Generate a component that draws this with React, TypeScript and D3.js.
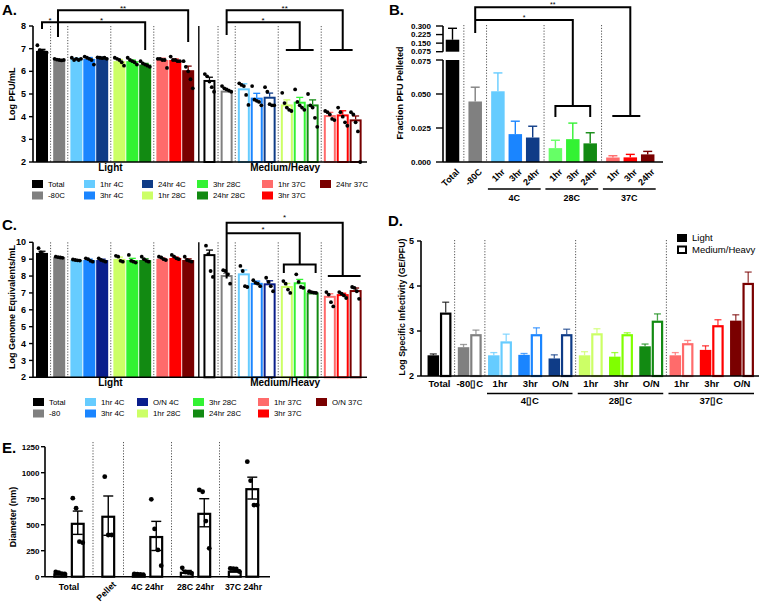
import React from "react";
import * as d3 from "d3";

const FONT = "'Liberation Sans', Arial, Helvetica, sans-serif";

// ===== Shared categories (panels A & C) =====
const conditionsA = ["Total", "-80C", "1hr 4C", "3hr 4C", "24hr 4C", "1hr 28C", "3hr 28C", "24hr 28C", "1hr 37C", "3hr 37C", "24hr 37C"];
const conditionsC = ["Total", "-80", "1hr 4C", "3hr 4C", "O/N 4C", "1hr 28C", "3hr 28C", "24hr 28C", "1hr 37C", "3hr 37C", "O/N 37C"];
const tempGroup = [0, 1, 2, 2, 2, 3, 3, 3, 4, 4, 4];
const fractions = ["Light", "Medium/Heavy"];
const colorsA = ["#000000", "#808080", "#66CCFF", "#1A85FF", "#0F3C87", "#CCFF66", "#33F233", "#128A12", "#FF6B6B", "#FF0000", "#7A0000"];
const colorsC = ["#000000", "#808080", "#66CCFF", "#1A85FF", "#0A1E8C", "#CCFF66", "#33F233", "#128A12", "#FF6B6B", "#FF0000", "#7A0000"];

// ===== Panel A: Log PFU/mL =====
const ticksA = [2, 3, 4, 5, 6, 7, 8];
const pfuLight = [6.9, 6.5, 6.55, 6.55, 6.6, 6.45, 6.45, 6.3, 6.5, 6.5, 6.05];
const pfuLightErr = [0.07, 0.02, 0.03, 0.06, 0.02, 0.07, 0.05, 0.05, 0.08, 0.04, 0.18];
const pfuLightPts = [
  [7.15, 6.93, 6.9, 6.85, 6.82],
  [6.55, 6.52, 6.5, 6.48, 6.5],
  [6.6, 6.5, 6.55, 6.5, 6.55],
  [6.65, 6.6, 6.55, 6.5, 6.3],
  [6.62, 6.6, 6.58, 6.6, 6.55],
  [6.6, 6.55, 6.5, 6.4, 6.25],
  [6.6, 6.5, 6.45, 6.4, 6.3],
  [6.45, 6.35, 6.3, 6.25, 6.2],
  [6.55, 6.55, 6.5, 6.5, 6.15],
  [6.65, 6.5, 6.5, 6.45, 6.45],
  [6.45, 6.2, 6.0, 5.65, 5.25],
];
const pfuMH = [5.62, 5.15, 5.25, 4.84, 4.88, 4.54, 4.66, 4.54, 4.07, 4.1, 3.88];
const pfuMHErr = [0.12, 0.05, 0.2, 0.19, 0.16, 0.2, 0.19, 0.2, 0.12, 0.16, 0.15];
const pfuMHPts = [
  [5.88, 5.78, 5.55, 5.3, 5.1],
  [5.35, 5.25, 5.2, 5.15, 5.1],
  [5.47, 5.4, 5.35, 4.96, 4.52],
  [5.35, 4.75, 4.7, 4.65, 4.5],
  [5.3, 5.1, 4.55, 4.5, 4.5],
  [5.05, 4.6, 4.4, 4.3, 4.25],
  [5.2, 4.65, 4.5, 4.4, 4.3],
  [5.0, 4.5, 4.4, 3.95, 3.55],
  [4.25, 4.2, 4.1, 3.9, 3.85],
  [4.4, 4.2, 4.0, 3.75, 3.6],
  [4.2, 4.1, 3.75, 3.35, 2.0],
];

// ===== Panel B: Fraction PFU pelleted =====
const pelletLabels = ["Total", "-80C", "1hr", "3hr", "24hr", "1hr", "3hr", "24hr", "1hr", "3hr", "24hr"];
const pelletGroups = ["4C", "28C", "37C"];
const pelletFrac = [0.18, 0.0445, 0.052, 0.0205, 0.018, 0.0102, 0.0168, 0.0137, 0.0033, 0.0034, 0.0056];
const pelletErr = [0.1, 0.0105, 0.0135, 0.0095, 0.0083, 0.0058, 0.0118, 0.0078, 0.0013, 0.0022, 0.0022];
const colorsB = ["#000000", "#808080", "#66CCFF", "#1A85FF", "#0F3C87", "#66FF66", "#33F233", "#128A12", "#FF6B6B", "#FF0000", "#7A0000"];
const ticksBLow = [0, 0.025, 0.05, 0.075];
const ticksBHigh = [0.075, 0.15, 0.225, 0.3];

// ===== Panel C: Log genome equivalents/mL =====
const ticksC = [2, 3, 4, 5, 6, 7, 8, 9, 10];
const geLight = [9.37, 9.12, 8.95, 8.95, 8.95, 9.02, 8.95, 8.95, 9.02, 9.07, 8.95];
const geLightErr = [0.1, 0.02, 0.02, 0.05, 0.05, 0.1, 0.1, 0.07, 0.05, 0.05, 0.07];
const geLightPts = [
  [9.65, 9.4, 9.3, 9.2],
  [9.15, 9.12, 9.1, 9.08],
  [8.98, 8.95, 8.93, 8.92],
  [9.05, 9.0, 8.9, 8.85],
  [9.05, 8.95, 8.9, 8.85],
  [9.2, 9.15, 8.9, 8.85],
  [9.25, 8.9, 8.85, 8.8],
  [9.15, 9.0, 8.9, 8.85],
  [9.15, 9.1, 9.0, 8.95],
  [9.25, 9.15, 9.05, 9.0],
  [9.15, 8.95, 8.9, 8.85],
];
const geMH = [9.3, 8.06, 8.16, 7.6, 7.57, 7.41, 7.63, 7.03, 6.83, 6.93, 7.17];
const geMHErr = [0.24, 0.1, 0.2, 0.1, 0.15, 0.15, 0.17, 0.03, 0.12, 0.05, 0.12];
const geMHPts = [
  [9.8, 9.3, 8.3, 7.95],
  [8.35, 8.3, 8.1, 7.55],
  [8.6, 8.3, 7.4, 7.35],
  [7.75, 7.6, 7.55, 7.4],
  [7.9, 7.65, 7.4, 7.1],
  [7.7, 7.55, 7.2, 7.0],
  [8.1, 7.65, 7.35, 7.3],
  [7.1, 7.05, 7.02, 7.0],
  [7.05, 6.9, 6.45, 6.2],
  [7.05, 6.95, 6.85, 6.7],
  [7.35, 7.3, 7.1, 6.65],
];

// ===== Panel D: Log specific infectivity =====
const infectLabels = ["Total", "-80\u25AFC", "1hr", "3hr", "O/N", "1hr", "3hr", "O/N", "1hr", "3hr", "O/N"];
const infectGroups = ["4\u25AFC", "28\u25AFC", "37\u25AFC"];
const ticksD = [2, 3, 4, 5];
const infectLight = [2.46, 2.64, 2.46, 2.47, 2.39, 2.46, 2.43, 2.66, 2.46, 2.58, 3.23];
const infectLightErr = [0.03, 0.06, 0.06, 0.03, 0.08, 0.08, 0.09, 0.05, 0.06, 0.09, 0.13];
const infectMH = [3.41, 2.93, 2.77, 2.93, 2.93, 2.95, 2.93, 3.23, 2.73, 3.13, 4.07];
const infectMHErr = [0.23, 0.09, 0.16, 0.14, 0.11, 0.1, 0.03, 0.15, 0.06, 0.12, 0.24];
const colorsD = ["#000000", "#808080", "#66CCFF", "#1A85FF", "#0F3C87", "#CCFF66", "#80FF00", "#128A12", "#FF6B6B", "#FF0000", "#7A0000"];

// ===== Panel E: Diameter =====
const diamGroups = ["Total", "Pellet", "4C 24hr", "28C 24hr", "37C 24hr"];
const ticksE = [0, 250, 500, 750, 1000, 1250];
const diamSmall = [33, null, 23, 48, 58];
const diamSmallErr = [5, null, 3, 12, 7];
const diamSmallPts = [[45, 38, 30, 28], [], [28, 25, 22, 20], [85, 45, 40, 35], [80, 78, 75, 50]];
const diamLarge = [519, 587, 392, 615, 852];
const diamLargeErr = [112, 189, 140, 135, 105];
const diamLargePts = [[755, 658, 337, 327], [962, 401, 401], [744, 459, 257, 106], [834, 817, 535, 273], [1106, 923, 689, 689]];

// ================= helpers =================
const dotOffsets = (n: number, spread: number) => d3.range(n).map((j) => (j - (n - 1) / 2) * spread);
const DOT = "#555";

function YAxis({ x, scale, ticks, fmt, tickLen = 4, gap = 3, fontSize = 9, nudge }: any) {
  const [d0, d1] = scale.domain();
  return (
    <g>
      <line x1={x} x2={x} y1={scale(d0)} y2={scale(d1)} stroke="#000" strokeWidth={1.6} />
      {ticks.map((t: number) => (
        <g key={t}>
          <line x1={x - tickLen} x2={x} y1={scale(t)} y2={scale(t)} stroke="#000" strokeWidth={1.4} />
          <text
            x={x - tickLen - gap}
            y={scale(t) + (nudge ? nudge(t) : 0)}
            dy="0.35em"
            textAnchor="end"
            fontSize={fontSize}
            fontWeight="bold"
          >
            {fmt ? fmt(t) : t}
          </text>
        </g>
      ))}
    </g>
  );
}

function YTitle({ x, y, text, size = 9 }: any) {
  return (
    <text transform={`translate(${x},${y}) rotate(-90)`} textAnchor="middle" dy="0.35em" fontSize={size} fontWeight="bold">
      {text}
    </text>
  );
}

function Dotted({ x, y1, y2 }: any) {
  return <line x1={x} x2={x} y1={y1} y2={y2} stroke={DOT} strokeWidth={1} strokeDasharray="1.2,1.6" />;
}

// ================= Panels A / C =================
const xAC = d3.scaleLinear().domain([0, 24.31]).range([42, 355.6]);
const unitAC = (i: number, f: number) => i + tempGroup[i] * 0.333 + f * 12.98;
const sepPairs = [[0, 1], [1, 2], [4, 5], [7, 8]];

function FractionPanel({ y, ticks, series, colors, legendLabels, legendX, legendY, title, titleY }: any) {
  const [yMin, yMax] = y.domain();
  const base = y(yMin);
  const top = y(yMax);
  const axisX = 33;
  const solidX = (xAC(unitAC(10, 0)) + xAC(unitAC(0, 1))) / 2;
  return (
    <g>
      {[0, 1].map((f) =>
        sepPairs.map(([a, b]) => (
          <Dotted key={`s${f}${a}`} x={(xAC(unitAC(a, f)) + xAC(unitAC(b, f))) / 2} y1={top} y2={base} />
        ))
      )}
      <line x1={solidX} x2={solidX} y1={top} y2={base} stroke="#000" strokeWidth={1.4} />
      {series.map((s: any, f: number) =>
        s.vals.map((v: number, i: number) => {
          const cx = xAC(unitAC(i, f));
          const ty = y(v);
          const e = y(v + s.err[i]);
          const col = colors[i];
          return (
            <g key={`b${f}${i}`}>
              {f === 0 ? (
                <rect x={cx - 6} width={12} y={ty} height={base - ty} fill={col} />
              ) : (
                <rect x={cx - 5} width={10} y={ty + 1} height={base - ty - 1} fill="#fff" stroke={col} strokeWidth={2} />
              )}
              <line x1={cx} x2={cx} y1={ty} y2={e} stroke={col} strokeWidth={1.3} />
              <line x1={cx - 3.5} x2={cx + 3.5} y1={e} y2={e} stroke={col} strokeWidth={1.3} />
            </g>
          );
        })
      )}
      {series.map((s: any, f: number) =>
        s.pts.map((pts: number[], i: number) => {
          const cx = xAC(unitAC(i, f));
          const offs = dotOffsets(pts.length, f === 0 ? 2.3 : 2.3);
          return pts.map((p, j) => <circle key={`p${f}${i}${j}`} cx={cx + offs[j]} cy={y(p)} r={1.9} fill="#000" />);
        })
      )}
      <YAxis x={axisX} scale={y} ticks={ticks} tickLen={4} gap={3} />
      <line x1={axisX} x2={367} y1={base} y2={base} stroke="#000" strokeWidth={1.6} />
      <YTitle x={12} y={titleY} text={title} />
      {fractions.map((fr, f) => (
        <text key={fr} x={f === 0 ? xAC(5.3) : xAC(18.85)} y={base + 9} textAnchor="middle" fontSize={10} fontWeight="bold">
          {fr}
        </text>
      ))}
      {legendLabels.map((lab: string, i: number) => {
        const col = Math.floor(i / 2);
        const row = i % 2;
        const ly = legendY + row * 11.5;
        return (
          <g key={lab}>
            <rect x={legendX[col]} y={ly - 4} width={11} height={8} fill={colors[i]} />
            <text x={legendX[col] + 16} y={ly} dy="0.35em" fontSize={7.8}>
              {lab}
            </text>
          </g>
        );
      })}
    </g>
  );
}

// ================= Panel B =================
const yBLow = d3.scaleLinear().domain([0, 0.075]).range([162, 60]);
const yBHigh = d3.scaleLinear().domain([0.075, 0.3]).range([51.7, 26]);
const xB = d3.scaleLinear().domain([0, 11.22]).range([452.5, 647.7]);
const unitB = (i: number) => i + tempGroup[i] * 0.305;
const yBAny = (v: number) => (v <= 0.075 ? yBLow(v) : yBHigh(v));

function PanelB() {
  const axisX = 443;
  const base = yBLow(0);
  const sepB = [[0, 1], [1, 2], [4, 5], [7, 8]];
  const groupRanges = [[2, 4], [5, 7], [8, 10]];
  return (
    <g>
      {sepB.map(([a, b]) => (
        <Dotted key={a} x={(xB(unitB(a)) + xB(unitB(b))) / 2} y1={25} y2={base} />
      ))}
      {pelletFrac.map((v, i) => {
        const cx = xB(unitB(i));
        const col = colorsB[i];
        const w = 13.5;
        const e = yBAny(v + pelletErr[i]);
        return (
          <g key={i}>
            {v <= 0.075 ? (
              <rect x={cx - w / 2} width={w} y={yBLow(v)} height={base - yBLow(v)} fill={col} />
            ) : (
              <>
                <rect x={cx - w / 2} width={w} y={yBLow(0.075)} height={base - yBLow(0.075)} fill={col} />
                <rect x={cx - w / 2} width={w} y={yBHigh(v)} height={yBHigh(0.075) - yBHigh(v)} fill={col} />
              </>
            )}
            <line x1={cx} x2={cx} y1={yBAny(v)} y2={e} stroke={col} strokeWidth={1.4} />
            <line x1={cx - 4.5} x2={cx + 4.5} y1={e} y2={e} stroke={col} strokeWidth={1.4} />
            <text
              transform={`translate(${cx + 3},${base + 6}) rotate(-45)`}
              textAnchor="end"
              dy="0.7em"
              fontSize={9}
              fontWeight="bold"
            >
              {pelletLabels[i]}
            </text>
          </g>
        );
      })}
      <YAxis x={axisX} scale={yBLow} ticks={ticksBLow} fmt={d3.format(".3f")} tickLen={7} gap={5} fontSize={8} nudge={(t: number) => (t === 0.075 ? 0.8 : 0)} />
      <YAxis x={axisX} scale={yBHigh} ticks={ticksBHigh} fmt={d3.format(".3f")} tickLen={7} gap={5} fontSize={8} nudge={(t: number) => (t === 0.075 ? -0.8 : 0)} />
      <line x1={axisX} x2={663} y1={base} y2={base} stroke="#000" strokeWidth={1.6} />
      <YTitle x={400} y={93} text="Fraction PFU Pelleted" />
      {groupRanges.map(([a, b], g) => {
        const x1 = xB(unitB(a)) - 10;
        const x2 = xB(unitB(b)) + 8;
        return (
          <g key={g}>
            <line x1={x1} x2={x2} y1={189} y2={189} stroke="#000" strokeWidth={1.5} />
            <text x={(x1 + x2) / 2} y={198} dy="0.35em" textAnchor="middle" fontSize={9} fontWeight="bold">
              {pelletGroups[g]}
            </text>
          </g>
        );
      })}
      {(() => {
        const x80 = xB(unitB(1));
        const x28 = xB(unitB(6));
        const x37 = xB(unitB(9));
        const yTop = yBHigh(0.464);
        const yMid = yBHigh(0.3525);
        return (
          <g fill="none" stroke="#000" strokeWidth={2}>
            <path d={`M${x80},${yBHigh(0.239)} V${yTop} H${x37} V${yBLow(0.0338)} M${x37 - 18},${yBLow(0.0338)} H${x37 + 10}`} />
            <path d={`M${x80},${yMid} H${x28} V${yBLow(0.0412)} M${xB(unitB(5))},${yBLow(0.0331)} V${yBLow(0.0412)} H${xB(unitB(7))} V${yBLow(0.0331)}`} />
            <text x={(x80 + x37) / 2} y={yTop - 0.5} textAnchor="middle" fontSize={7} stroke="none" fill="#000">**</text>
            <text x={(x80 + x28) / 2} y={yMid - 0.5} textAnchor="middle" fontSize={7} stroke="none" fill="#000">*</text>
          </g>
        );
      })()}
    </g>
  );
}

// ================= Panel D =================
const yD = d3.scaleLinear().domain([2, 5]).range([376, 241]);
const xD = d3.scaleLinear().domain([0, 10]).range([439.5, 742]);

function PanelD() {
  const axisX = 421;
  const base = yD(2);
  const sepD = [[0, 1], [1, 2], [4, 5], [7, 8]];
  const groupRanges = [[2, 4], [5, 7], [8, 10]];
  const w = 11.5;
  return (
    <g>
      {sepD.map(([a, b]) => (
        <Dotted key={a} x={(xD(a) + xD(b)) / 2} y1={240} y2={base} />
      ))}
      {infectLight.map((v, i) => {
        const cx = xD(i);
        const col = colorsD[i];
        const lx = cx - 6.2;
        const hx = cx + 6.2;
        const vm = infectMH[i];
        const el = yD(v + infectLightErr[i]);
        const em = yD(vm + infectMHErr[i]);
        return (
          <g key={i}>
            <rect x={lx - w / 2} width={w} y={yD(v)} height={base - yD(v)} fill={col} />
            <line x1={lx} x2={lx} y1={yD(v)} y2={el} stroke={col} strokeWidth={1.3} opacity={0.75} />
            <line x1={lx - 3.5} x2={lx + 3.5} y1={el} y2={el} stroke={col} strokeWidth={1.3} opacity={0.75} />
            <rect x={hx - w / 2 + 1.1} width={w - 2.2} y={yD(vm) + 1.1} height={base - yD(vm) - 1.1} fill="#fff" stroke={col} strokeWidth={2.2} />
            <line x1={hx} x2={hx} y1={yD(vm)} y2={em} stroke={col} strokeWidth={1.3} opacity={0.75} />
            <line x1={hx - 3.5} x2={hx + 3.5} y1={em} y2={em} stroke={col} strokeWidth={1.3} opacity={0.75} />
            <text x={cx} y={base + 8} dy="0.35em" textAnchor="middle" fontSize={9.5} fontWeight="bold">
              {infectLabels[i]}
            </text>
          </g>
        );
      })}
      <YAxis x={axisX} scale={yD} ticks={ticksD} tickLen={4} gap={3} />
      <line x1={axisX} x2={759} y1={base} y2={base} stroke="#000" strokeWidth={1.6} />
      <YTitle x={402} y={307} text="Log Specific Infectivity (GE/PFU)" size={8.8} />
      {groupRanges.map(([a, b], g) => {
        const x1 = xD(a) - 13;
        const x2 = xD(b) + 12;
        return (
          <g key={g}>
            <line x1={x1} x2={x2} y1={393.5} y2={393.5} stroke="#000" strokeWidth={1.5} />
            <text x={(x1 + x2) / 2} y={401} dy="0.35em" textAnchor="middle" fontSize={9.5} fontWeight="bold">
              {infectGroups[g]}
            </text>
          </g>
        );
      })}
      <rect x={677} y={234} width={10} height={8} fill="#000" />
      <text x={692} y={238} dy="0.35em" fontSize={9.5}>{fractions[0]}</text>
      <rect x={678} y={246.5} width={8} height={6.5} fill="#fff" stroke="#000" strokeWidth={2} />
      <text x={692} y={249.8} dy="0.35em" fontSize={9.5}>{fractions[1]}</text>
    </g>
  );
}

// ================= Panel E =================
const yE = d3.scaleLinear().domain([0, 1250]).range([576.7, 446.7]);
const xE = d3.scaleLinear().domain([0, 12.714]).range([45, 267.5]);

function PanelE() {
  const axisX = 45;
  const base = yE(0);
  const pad = 0.3715;
  let cursor = 0;
  const groups = diamGroups.map((g, i) => {
    const n = diamSmall[i] === null ? 1 : 2;
    const start = cursor;
    cursor += n + 2 * pad;
    return { name: g, start, end: cursor, n, i };
  });
  const w = 14;
  const bar = (cx: number, v: number, err: number, pts: number[], key: string, spread: number) => {
    const ty = yE(v);
    return (
      <g key={key}>
        <rect x={cx - w / 2 + 1.1} width={w - 2.2} y={ty + 1.1} height={base - ty - 1.1} fill="#fff" stroke="#000" strokeWidth={2.2} />
        <line x1={cx} x2={cx} y1={yE(Math.max(0, v - err))} y2={yE(v + err)} stroke="#000" strokeWidth={1.4} />
        <line x1={cx - 5} x2={cx + 5} y1={yE(v + err)} y2={yE(v + err)} stroke="#000" strokeWidth={1.4} />
        <line x1={cx - 5} x2={cx + 5} y1={yE(Math.max(0, v - err))} y2={yE(Math.max(0, v - err))} stroke="#000" strokeWidth={1.4} />
        {pts.map((p, j) => (
          <circle key={j} cx={cx + dotOffsets(pts.length, spread)[j]} cy={yE(p)} r={2.4} fill="#000" />
        ))}
      </g>
    );
  };
  return (
    <g>
      {groups.slice(1).map((g) => (
        <Dotted key={g.name} x={xE(g.start)} y1={442} y2={base} />
      ))}
      {groups.map((g) => {
        const i = g.i;
        const c1 = xE(g.start + pad + 0.5);
        const c2 = xE(g.start + pad + 1.5);
        const mid = (xE(g.start) + xE(g.end)) / 2;
        return (
          <g key={g.name}>
            {g.n === 2 ? (
              <>
                {bar(c1, diamSmall[i] as number, diamSmallErr[i] as number, diamSmallPts[i], "s", 3)}
                {bar(c2, diamLarge[i], diamLargeErr[i], diamLargePts[i], "l", 3.3)}
              </>
            ) : (
              bar(c1, diamLarge[i], diamLargeErr[i], diamLargePts[i], "l", 3.5)
            )}
            {g.n === 2 ? (
              <text x={mid} y={base + 10} dy="0.35em" textAnchor="middle" fontSize={8.8} fontWeight="bold">
                {g.name}
              </text>
            ) : (
              <text transform={`translate(${mid + 4},${base + 4}) rotate(-45)`} textAnchor="end" dy="0.7em" fontSize={8.8} fontWeight="bold">
                {g.name}
              </text>
            )}
          </g>
        );
      })}
      <YAxis x={axisX} scale={yE} ticks={ticksE} tickLen={4} gap={1.5} fontSize={8} />
      <line x1={axisX} x2={270} y1={base} y2={base} stroke="#000" strokeWidth={1.6} />
      <YTitle x={13} y={517} text="Diameter (nm)" />
    </g>
  );
}

// ================= Brackets for A and C =================
function BracketsA({ y }: any) {
  const xL = (i: number) => xAC(unitAC(i, 0));
  const xM = (i: number) => xAC(unitAC(i, 1));
  const x80 = xL(1) - 1.2;
  const xm80 = xM(1);
  return (
    <g fill="none" stroke="#000" strokeWidth={2}>
      <path d={`M${xL(0)},${y(7.87)} V${y(8.17)} H${x80}`} />
      <path d={`M${x80},${y(7.51)} V${y(8.7)} H${xL(10)} V${y(7.29)}`} />
      <path d={`M${x80},${y(8.17)} H${xL(7)} V${y(6.94)}`} />
      <path d={`M${xm80},${y(7.6)} V${y(8.7)} H${xM(9)} V${y(6.94)} M${xM(8)},${y(6.94)} H${xM(10) - 3}`} />
      <path d={`M${xm80},${y(8.17)} H${xM(6)} V${y(6.94)} M${xM(5) - 1},${y(6.94)} H${xM(7) + 1}`} />
      <g stroke="none" fill="#000" fontSize={8} textAnchor="middle">
        <text x={(xL(0) + x80) / 2} y={y(8.17) + 1}>*</text>
        <text x={(x80 + xL(10)) / 2} y={y(8.7) + 1}>**</text>
        <text x={(x80 + xL(7)) / 2} y={y(8.17) + 1}>*</text>
        <text x={(xm80 + xM(9)) / 2} y={y(8.7) + 1}>**</text>
        <text x={(xm80 + xM(6)) / 2} y={y(8.17) + 1}>*</text>
      </g>
    </g>
  );
}

function BracketsC({ y }: any) {
  const xM = (i: number) => xAC(unitAC(i, 1));
  const xm80 = xM(1);
  return (
    <g fill="none" stroke="#000" strokeWidth={2}>
      <path d={`M${xm80},${y(7.85)} V${y(11.16)} H${xM(9)} V${y(8.0)} M${xM(8) - 2},${y(8.0)} H${xM(10) + 5}`} />
      <path d={`M${xm80},${y(10.53)} H${xM(6)} V${y(8.69)} M${xM(5) - 3},${y(8.18)} V${y(8.69)} H${xM(7) + 3} V${y(8.18)}`} />
      <g stroke="none" fill="#000" fontSize={8} textAnchor="middle">
        <text x={(xm80 + xM(9)) / 2} y={y(11.16) - 3}>*</text>
        <text x={(xm80 + xM(6)) / 2} y={y(10.53) - 1}>*</text>
      </g>
    </g>
  );
}

const yA = d3.scaleLinear().domain([2, 8]).range([162, 26]);
const yC = d3.scaleLinear().domain([2, 10]).range([377.3, 242.3]);

export default function App() {
  return (
    <svg
      width={760}
      height={602}
      viewBox="0 0 760 602"
      style={{ position: "absolute", left: 0, top: 0, background: "#fff" }}
      fontFamily={FONT}
    >
      <rect width={760} height={602} fill="#fff" />
      <g fontSize={15} fontWeight="bold">
        <text x={2} y={15}>A.</text>
        <text x={389} y={15}>B.</text>
        <text x={2} y={230}>C.</text>
        <text x={388} y={226}>D.</text>
        <text x={2} y={453}>E.</text>
      </g>

      <FractionPanel
        y={yA}
        ticks={ticksA}
        series={[
          { vals: pfuLight, err: pfuLightErr, pts: pfuLightPts },
          { vals: pfuMH, err: pfuMHErr, pts: pfuMHPts },
        ]}
        colors={colorsA}
        legendLabels={conditionsA}
        legendX={[32, 84, 142, 197, 262, 320]}
        legendY={184}
        title="Log PFU/mL"
        titleY={94}
      />
      <BracketsA y={yA} />

      <PanelB />

      <FractionPanel
        y={yC}
        ticks={ticksC}
        series={[
          { vals: geLight, err: geLightErr, pts: geLightPts },
          { vals: geMH, err: geMHErr, pts: geMHPts },
        ]}
        colors={colorsC}
        legendLabels={conditionsC}
        legendX={[33, 85, 137, 193, 258, 316]}
        legendY={402}
        title="Log Genome Equivalents/mL"
        titleY={307}
      />
      <BracketsC y={yC} />

      <PanelD />
      <PanelE />
    </svg>
  );
}
